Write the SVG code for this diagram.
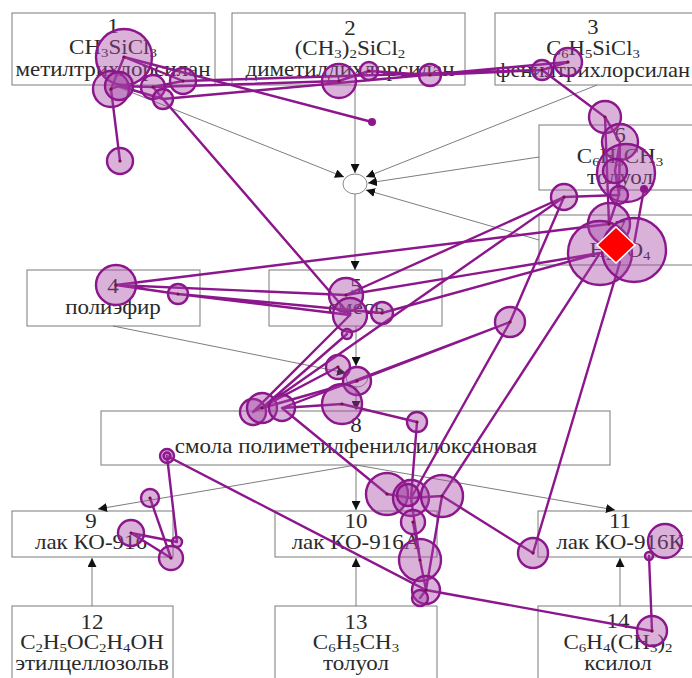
<svg xmlns="http://www.w3.org/2000/svg" width="692" height="678" viewBox="0 0 692 678">
  <style>
    .box { fill: #ffffff; stroke: #7a7a7a; stroke-width: 1; }
    .lbl { font-family: "Liberation Serif", "Times New Roman", serif; font-size: 20px; fill: #2a2a2a; text-anchor: middle; }
    .sub { font-size: 13px; }
    .con { stroke: #6e6e6e; stroke-width: 0.9; fill: none; }
    .jn { fill: #ffffff; stroke: #8a8a8a; stroke-width: 1; }
    .sp { stroke: #8c168c; stroke-width: 2.4; fill: none; stroke-linecap: round; }
    .fx { fill: rgba(165, 70, 165, 0.42); stroke: #8c168c; stroke-width: 2.4; }
    .dot { fill: #7a1040; }
  </style>
  <defs>
    <marker id="ah" viewBox="0 0 10 10" refX="10" refY="5" markerWidth="9" markerHeight="9" markerUnits="userSpaceOnUse" orient="auto">
      <path d="M0,0 L10,5 L0,10 z" fill="#111111"/>
    </marker>
  </defs>
  <rect x="0" y="0" width="692" height="678" fill="#ffffff"/>

  <!-- process blocks -->
  <g id="node1">
    <rect class="box" x="12" y="13" width="203" height="72"/>
    <text class="lbl" transform="translate(113 0) scale(1.15 1)" y="33">1</text>
    <text class="lbl" transform="translate(113 0) scale(1.15 1)" y="54">CH<tspan class="sub" dy="3">3</tspan><tspan dy="-3">SiCl</tspan><tspan class="sub" dy="3">3</tspan></text>
    <text class="lbl" transform="translate(113 0) scale(1.15 1)" y="76">метилтрихлорсилан</text>
  </g>
  <g id="node2">
    <rect class="box" x="232" y="13" width="233" height="72"/>
    <text class="lbl" transform="translate(350 0) scale(1.15 1)" y="35">2</text>
    <text class="lbl" transform="translate(350 0) scale(1.15 1)" y="55">(CH<tspan class="sub" dy="3">3</tspan><tspan dy="-3">)</tspan><tspan class="sub" dy="3">2</tspan><tspan dy="-3">SiCl</tspan><tspan class="sub" dy="3">2</tspan></text>
    <text class="lbl" transform="translate(350 0) scale(1.15 1)" y="76">диметилдихлорсилан</text>
  </g>
  <g id="node3">
    <rect class="box" x="495" y="13" width="210" height="72"/>
    <text class="lbl" transform="translate(593 0) scale(1.13 1)" y="34">3</text>
    <text class="lbl" transform="translate(593 0) scale(1.13 1)" y="55">C<tspan class="sub" dy="3">6</tspan><tspan dy="-3">H</tspan><tspan class="sub" dy="3">5</tspan><tspan dy="-3">SiCl</tspan><tspan class="sub" dy="3">3</tspan></text>
    <text class="lbl" transform="translate(593 0) scale(1.13 1)" y="77">фенилтрихлорсилан</text>
  </g>
  <g id="node6">
    <rect class="box" x="539" y="125" width="170" height="65"/>
    <text class="lbl" transform="translate(620 0) scale(1.15 1)" y="142">6</text>
    <text class="lbl" transform="translate(620 0) scale(1.15 1)" y="163">C<tspan class="sub" dy="3">6</tspan><tspan dy="-3">H</tspan><tspan class="sub" dy="3">5</tspan><tspan dy="-3">CH</tspan><tspan class="sub" dy="3">3</tspan></text>
    <text class="lbl" transform="translate(620 0) scale(1.15 1)" y="184">толуол</text>
  </g>
  <g id="node7">
    <rect class="box" x="539" y="215" width="170" height="50"/>
    <text class="lbl" transform="translate(620 0) scale(1.15 1)" y="235">7</text>
    <text class="lbl" transform="translate(620 0) scale(1.15 1)" y="257">H<tspan class="sub" dy="3">2</tspan><tspan dy="-3">SO</tspan><tspan class="sub" dy="3">4</tspan></text>
  </g>
  <g id="node4">
    <rect class="box" x="27" y="270" width="173" height="56"/>
    <text class="lbl" transform="translate(113 0) scale(1.15 1)" y="293">4</text>
    <text class="lbl" transform="translate(113 0) scale(1.15 1)" y="314">полиэфир</text>
  </g>
  <g id="node5">
    <rect class="box" x="269" y="270" width="173" height="56"/>
    <text class="lbl" transform="translate(356 0) scale(1.15 1)" y="293">5</text>
    <text class="lbl" transform="translate(356 0) scale(1.15 1)" y="314">смесь</text>
  </g>
  <g id="node8">
    <rect class="box" x="101" y="411" width="509" height="54"/>
    <text class="lbl" transform="translate(356 0) scale(1.15 1)" y="432">8</text>
    <text class="lbl" transform="translate(356 0) scale(1.15 1)" y="453">смола полиметилфенилсилоксановая</text>
  </g>
  <g id="node9">
    <rect class="box" x="12" y="511" width="161" height="46"/>
    <text class="lbl" transform="translate(91 0) scale(1.15 1)" y="528">9</text>
    <text class="lbl" transform="translate(91 0) scale(1.15 1)" y="549">лак КО-916</text>
  </g>
  <g id="node10">
    <rect class="box" x="275" y="511" width="162" height="46"/>
    <text class="lbl" transform="translate(356 0) scale(1.15 1)" y="528">10</text>
    <text class="lbl" transform="translate(356 0) scale(1.15 1)" y="549">лак КО-916А</text>
  </g>
  <g id="node11">
    <rect class="box" x="538" y="511" width="170" height="46"/>
    <text class="lbl" transform="translate(620 0) scale(1.15 1)" y="528">11</text>
    <text class="lbl" transform="translate(620 0) scale(1.15 1)" y="549">лак КО-916К</text>
  </g>
  <g id="node12">
    <rect class="box" x="12" y="606" width="161" height="80"/>
    <text class="lbl" transform="translate(92 0) scale(1.15 1)" y="629">12</text>
    <text class="lbl" transform="translate(92 0) scale(1.15 1)" y="649">C<tspan class="sub" dy="3">2</tspan><tspan dy="-3">H</tspan><tspan class="sub" dy="3">5</tspan><tspan dy="-3">OC</tspan><tspan class="sub" dy="3">2</tspan><tspan dy="-3">H</tspan><tspan class="sub" dy="3">4</tspan><tspan dy="-3">OH</tspan></text>
    <text class="lbl" transform="translate(92 0) scale(1.15 1)" y="670">этилцеллозольв</text>
  </g>
  <g id="node13">
    <rect class="box" x="275" y="606" width="162" height="80"/>
    <text class="lbl" transform="translate(356 0) scale(1.15 1)" y="629">13</text>
    <text class="lbl" transform="translate(356 0) scale(1.15 1)" y="649">C<tspan class="sub" dy="3">6</tspan><tspan dy="-3">H</tspan><tspan class="sub" dy="3">5</tspan><tspan dy="-3">CH</tspan><tspan class="sub" dy="3">3</tspan></text>
    <text class="lbl" transform="translate(356 0) scale(1.15 1)" y="670">толуол</text>
  </g>
  <g id="node14">
    <rect class="box" x="538" y="606" width="170" height="80"/>
    <text class="lbl" transform="translate(618 0) scale(1.15 1)" y="628">14</text>
    <text class="lbl" transform="translate(618 0) scale(1.15 1)" y="649">C<tspan class="sub" dy="3">6</tspan><tspan dy="-3">H</tspan><tspan class="sub" dy="3">4</tspan><tspan dy="-3">(CH</tspan><tspan class="sub" dy="3">3</tspan><tspan dy="-3">)</tspan><tspan class="sub" dy="3">2</tspan></text>
    <text class="lbl" transform="translate(618 0) scale(1.15 1)" y="670">ксилол</text>
  </g>

  <!-- mixing junctions -->
  <g id="junction1"><ellipse class="jn" cx="355" cy="184" rx="12" ry="10"/></g>
  <g id="junction2"><ellipse class="jn" cx="357" cy="377" rx="11" ry="10"/></g>

  <!-- flow connectors -->
  <g id="connectors">
    <line class="con" x1="113" y1="85" x2="344" y2="177" marker-end="url(#ah)"/>
    <line class="con" x1="355" y1="85" x2="355" y2="173" marker-end="url(#ah)"/>
    <line class="con" x1="597" y1="85" x2="366" y2="177" marker-end="url(#ah)"/>
    <line class="con" x1="539" y1="157" x2="368" y2="183" marker-end="url(#ah)"/>
    <line class="con" x1="539" y1="240" x2="366" y2="190" marker-end="url(#ah)"/>
    <line class="con" x1="355" y1="194" x2="355" y2="270" marker-end="url(#ah)"/>
    <line class="con" x1="356" y1="326" x2="356" y2="366" marker-end="url(#ah)"/>
    <line class="con" x1="113" y1="326" x2="346" y2="373" marker-end="url(#ah)"/>
    <line class="con" x1="356" y1="387" x2="356" y2="410" marker-end="url(#ah)"/>
    <line class="con" x1="356" y1="465" x2="98" y2="509" marker-end="url(#ah)"/>
    <line class="con" x1="356" y1="465" x2="356" y2="510" marker-end="url(#ah)"/>
    <line class="con" x1="356" y1="465" x2="615" y2="510" marker-end="url(#ah)"/>
    <line class="con" x1="92" y1="606" x2="92" y2="558" marker-end="url(#ah)"/>
    <line class="con" x1="356" y1="606" x2="356" y2="558" marker-end="url(#ah)"/>
    <line class="con" x1="620" y1="606" x2="620" y2="558" marker-end="url(#ah)"/>
  </g>

  <!-- gaze path: saccade segments -->
  <g id="saccades" class="sp">
    <path d="M124,57 L111,89 L119,86 L153,87 L183,81 M124,57 L183,81 M153,87 L163,99 M119,86 L163,99"/>
    <path d="M111,89 L120,161"/>
    <path d="M124,57 L372,122"/>
    <path d="M153,87 L339,81 L369,71 L430,75 L542,70 M183,81 L542,70 M163,99 L568,62"/>
    <path d="M542,70 L568,62 M542,70 L605,117 L620,142 L615,171 L619,195 M605,117 L609,224 M620,142 L619,195"/>
    <path d="M644,189 L634,244 M564,197 L619,195 L609,224"/>
    <path d="M564,197 L346,295 M564,197 L510,322"/>
    <path d="M609,224 L116,285 M600,253 L382,313 M600,253 L346,295 M600,253 L442,496 M620,262 L533,553"/>
    <path d="M116,285 L346,295 M116,285 L178,294 L350,315 M178,294 L382,313"/>
    <path d="M163,99 L350,315"/>
    <path d="M350,315 L253,412 M347,334 L262,408 M262,408 L564,197 M253,412 L338,367 M262,408 L357,381"/>
    <path d="M282,408 L510,322 L357,381 M282,408 L342,404 L417,422 L411,498 M282,408 L387,494 M510,322 L411,498"/>
    <path d="M387,494 L411,498 L442,496 M411,498 L420,560 L426,590 M442,496 L426,590 M413,522 L420,560 M426,590 L420,598"/>
    <path d="M167,456 L177,542 M167,456 L426,590 L652,631 M150,498 L171,558 M131,533 L177,542 M131,533 L171,558"/>
    <path d="M649,556 L652,631 M533,553 L442,496"/>
  </g>

  <!-- gaze path: fixations -->
  <g id="fixations">
    <circle class="fx" cx="124" cy="57" r="28"/>
    <circle class="fx" cx="111" cy="89" r="18"/>
    <circle class="fx" cx="119" cy="86" r="14"/>
    <circle class="fx" cx="153" cy="87" r="12"/>
    <circle class="fx" cx="163" cy="99" r="10"/>
    <circle class="fx" cx="183" cy="81" r="13"/>
    <circle class="fx" cx="120" cy="161" r="13"/>
    <circle class="fx" cx="339" cy="81" r="17"/>
    <circle class="fx" cx="369" cy="71" r="9"/>
    <circle class="fx" cx="430" cy="75" r="11"/>
    <circle cx="372" cy="122" r="4" fill="#8c168c"/>
    <circle class="fx" cx="542" cy="70" r="10"/>
    <circle class="fx" cx="568" cy="62" r="14"/>
    <circle class="fx" cx="605" cy="117" r="16"/>
    <circle class="fx" cx="620" cy="142" r="18"/>
    <circle class="fx" cx="626" cy="173" r="29"/>
    <circle class="fx" cx="615" cy="171" r="12"/>
    <circle class="fx" cx="619" cy="195" r="9"/>
    <circle cx="644" cy="189" r="4" fill="#8c168c"/>
    <circle class="fx" cx="564" cy="197" r="13"/>
    <circle class="fx" cx="609" cy="224" r="21"/>
    <circle class="fx" cx="600" cy="253" r="32"/>
    <circle class="fx" cx="634" cy="250" r="32"/>
    <circle class="fx" cx="116" cy="285" r="20"/>
    <circle class="fx" cx="178" cy="294" r="10"/>
    <circle class="fx" cx="346" cy="295" r="17"/>
    <circle class="fx" cx="350" cy="315" r="17"/>
    <circle class="fx" cx="382" cy="313" r="11"/>
    <circle class="fx" cx="347" cy="334" r="5"/>
    <circle class="fx" cx="338" cy="367" r="12"/>
    <circle class="fx" cx="357" cy="381" r="14"/>
    <circle class="fx" cx="342" cy="404" r="20"/>
    <circle class="fx" cx="417" cy="422" r="10"/>
    <circle class="fx" cx="253" cy="412" r="13"/>
    <circle class="fx" cx="262" cy="408" r="15"/>
    <circle class="fx" cx="282" cy="408" r="13"/>
    <circle class="fx" cx="510" cy="322" r="15"/>
    <circle class="fx" cx="167" cy="456" r="7"/>
    <circle class="fx" cx="167" cy="456" r="3.5"/>
    <circle class="fx" cx="150" cy="498" r="9"/>
    <circle class="fx" cx="131" cy="533" r="13"/>
    <circle class="fx" cx="177" cy="542" r="5"/>
    <circle class="fx" cx="171" cy="558" r="12"/>
    <circle class="fx" cx="387" cy="494" r="21"/>
    <circle class="fx" cx="411" cy="498" r="18"/>
    <circle class="fx" cx="408" cy="495" r="11"/>
    <circle class="fx" cx="442" cy="496" r="21"/>
    <circle class="fx" cx="413" cy="522" r="12"/>
    <circle class="fx" cx="420" cy="560" r="21"/>
    <circle class="fx" cx="426" cy="590" r="14"/>
    <circle class="fx" cx="420" cy="598" r="8"/>
    <circle class="fx" cx="533" cy="553" r="15"/>
    <circle class="fx" cx="665" cy="541" r="17"/>
    <circle class="fx" cx="649" cy="556" r="4"/>
    <circle class="fx" cx="652" cy="631" r="15"/>
    <!-- fixation centres -->
    <g class="dot">
      <circle cx="124" cy="57" r="1.6"/><circle cx="111" cy="89" r="1.6"/><circle cx="153" cy="87" r="1.6"/>
      <circle cx="183" cy="81" r="1.6"/><circle cx="120" cy="161" r="1.6"/><circle cx="339" cy="81" r="1.6"/>
      <circle cx="369" cy="71" r="1.6"/><circle cx="430" cy="75" r="1.6"/><circle cx="542" cy="70" r="1.6"/>
      <circle cx="568" cy="62" r="1.6"/><circle cx="605" cy="117" r="1.6"/><circle cx="564" cy="197" r="1.6"/>
      <circle cx="116" cy="285" r="1.6"/><circle cx="178" cy="294" r="1.6"/><circle cx="346" cy="295" r="1.6"/>
      <circle cx="382" cy="313" r="1.6"/><circle cx="338" cy="367" r="1.6"/><circle cx="357" cy="381" r="1.6"/>
      <circle cx="342" cy="404" r="1.6"/><circle cx="417" cy="422" r="1.6"/><circle cx="262" cy="408" r="1.6"/>
      <circle cx="510" cy="322" r="1.6"/><circle cx="150" cy="498" r="1.6"/><circle cx="131" cy="533" r="1.6"/>
      <circle cx="171" cy="558" r="1.6"/><circle cx="387" cy="494" r="1.6"/><circle cx="442" cy="496" r="1.6"/>
      <circle cx="413" cy="522" r="1.6"/><circle cx="420" cy="560" r="1.6"/><circle cx="426" cy="590" r="1.6"/>
      <circle cx="533" cy="553" r="1.6"/><circle cx="652" cy="631" r="1.6"/><circle cx="609" cy="224" r="1.6"/>
    </g>
    <!-- current gaze marker -->
    <polygon points="616,227 635,245 616,263 597,245" fill="#ff0000" stroke="#ffffff" stroke-width="1.5"/>
  </g>
</svg>
